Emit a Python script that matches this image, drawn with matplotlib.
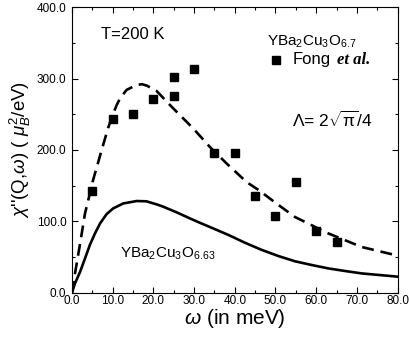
import matplotlib
matplotlib.use("Agg")
import matplotlib.pyplot as plt
from matplotlib.ticker import MultipleLocator, FormatStrFormatter

# Fong et al. data (YBa2Cu3O6.7)
fong_w = [5, 10, 15, 20, 25, 25, 30, 35, 40, 45, 50, 55, 60, 65]
fong_chi = [142, 243, 250, 271, 276, 302, 314, 196, 195, 136, 108, 155, 86, 71]

# dashed theory curve
dash_w = [0, 0.74, 2.0, 3.2, 5.2, 7.3, 8.9, 10.0, 11.0, 11.8, 13.4, 15.9, 17.2, 18.4, 20.8, 24.9, 29.8,
          33.9, 38.0, 42.9, 45.8, 50, 54.8, 63.0, 71.2, 78.5, 80]
dash_chi = [0, 27, 69, 111, 158, 200, 231, 249, 263, 272, 284, 291, 292, 290, 282.5, 258, 230,
            204, 181, 155, 144, 126, 106, 83, 64, 54, 52]

# solid theory curve YBa2Cu3O6.63
solid_w = [0, 0.74, 1.97, 3.2, 4.4, 5.65, 6.9, 8.5, 10.1, 12.6, 15.9, 18.3, 21.2, 22.4, 25.7,
           29.0, 31.4, 34.3, 38.4, 42.5, 46.6, 50.7, 54.8, 58.9, 63.0, 67.1, 71.2, 80]
solid_chi = [0, 13, 29, 48, 67, 83, 97, 110, 118, 125, 128.4, 128, 123, 120.5, 112.6,
             104, 98, 91, 81, 70, 60, 51.4, 44, 38.8, 34, 30.4, 27, 22.5]

plt.rcParams['font.family'] = ['Liberation Sans', 'DejaVu Sans']
plt.rcParams['mathtext.fontset'] = 'custom'
plt.rcParams['mathtext.rm'] = 'Liberation Sans'
plt.rcParams['mathtext.it'] = 'Liberation Sans:italic'

fig = plt.figure(figsize=(4.09, 3.38), dpi=100)
ax = fig.add_axes([0.176, 0.134, 0.796, 0.845])

ax.plot(dash_w, dash_chi, color='black', lw=1.9, linestyle=(0, (4.5, 2.6)),
        solid_joinstyle='round', dash_joinstyle='round')
ax.plot(solid_w, solid_chi, color='black', lw=1.9, solid_joinstyle='round')
ax.plot(fong_w, fong_chi, 's', color='black', markersize=6.2, linestyle='none')

ax.set_xlim(0, 80)
ax.set_ylim(0, 400)
ax.xaxis.set_major_locator(MultipleLocator(10))
ax.xaxis.set_minor_locator(MultipleLocator(5))
ax.yaxis.set_major_locator(MultipleLocator(100))
ax.yaxis.set_minor_locator(MultipleLocator(50))
ax.xaxis.set_major_formatter(FormatStrFormatter('%.1f'))
ax.yaxis.set_major_formatter(FormatStrFormatter('%.1f'))
ax.tick_params(which='both', direction='in', top=True, right=True, labelsize=8.5, width=0.8)
ax.tick_params(axis='x', which='major', length=4, pad=2)
ax.tick_params(axis='y', which='major', length=4, pad=4)
ax.tick_params(which='minor', length=2.5)
for s in ax.spines.values():
    s.set_linewidth(0.8)

ax.set_xlabel(r'$\omega$ (in meV)', fontsize=15, labelpad=0)
ax.set_ylabel(r"$\chi$''(Q,$\omega$) ( $\mu_B^2$/eV)", fontsize=13.5, labelpad=3)

ax.text(7.1, 361, 'T=200 K', fontsize=12, va='center', ha='left')
ax.text(47.9, 351, r'YBa$_2$Cu$_3$O$_{6.7}$', fontsize=11, va='center', ha='left')
ax.plot([50.2], [326], 's', color='black', markersize=6.2)
ax.text(54.2, 326, 'Fong', fontsize=12, va='center', ha='left')
ax.text(65.0, 326, 'et al.', fontsize=12, va='center', ha='left',
        family=['Liberation Serif'], fontweight='bold', fontstyle='italic')
ax.text(54.0, 242, r'$\Lambda$= 2$\sqrt{\mathrm{\pi}}$/4', fontsize=12.5, va='center', ha='left')
ax.text(11.8, 55, r'YBa$_2$Cu$_3$O$_{6.63}$', fontsize=11, va='center', ha='left')

fig.savefig('out.png', dpi=100)
